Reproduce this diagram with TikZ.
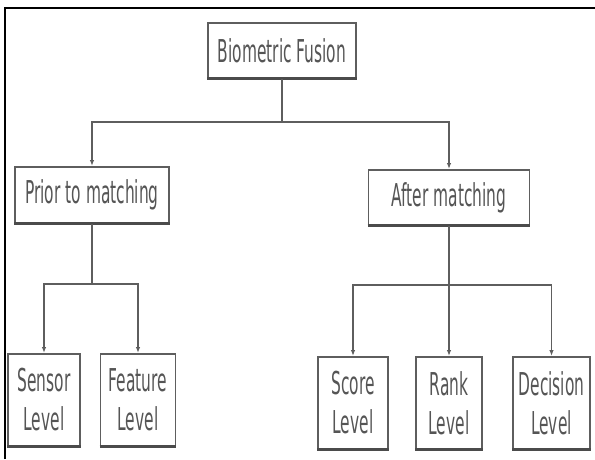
\documentclass[tikz,border=0pt]{standalone}
\usepackage{fontspec}
\usetikzlibrary{arrows.meta}
\newfontfamily\boxfont[FakeStretch=0.49]{DejaVu Sans}
\definecolor{boxgray}{HTML}{5E5E5E}
\definecolor{txtgray}{HTML}{555555}
\tikzset{
  box/.style={draw=boxgray, line width=1.9pt, fill=white, align=center,
    text=txtgray, inner sep=0pt,
    font=\boxfont\fontsize{31.5}{39}\selectfont},
  arr/.style={draw=boxgray, line width=1.5pt, -{Latex[length=6pt,width=4.5pt]}},
  bus/.style={draw=boxgray, line width=1.5pt},
  boxbase/.style={draw=boxgray!80!black, line width=3pt}
}
\begin{document}
\begin{tikzpicture}[x=1pt, y=-1pt]
    \useasboundingbox (0,0) rectangle (595,459);
    % Frame
    \draw[line width=2.5pt] (5,459) -- (5,8) -- (595,8);

    % Top node
    \node[box, minimum width=148, minimum height=55] (fusion) at (282,50.5) {Biometric Fusion};

    % Second level
    \node[box, minimum width=154, minimum height=56] (prior) at (92,195) {Prior to matching};
    \node[box, minimum width=161, minimum height=55] (after) at (449,197.5) {After matching};

    % Third level
    \node[box, minimum width=72, minimum height=92] (sensor) at (44,400) {Sensor\\Level};
    \node[box, minimum width=75, minimum height=92] (feature) at (138,400) {Feature\\Level};
    \node[box, minimum width=70, minimum height=92] (score) at (353,403) {Score\\Level};
    \node[box, minimum width=66, minimum height=92] (rank) at (449,403) {Rank\\Level};
    \node[box, minimum width=77, minimum height=92] (decision) at (551.5,403) {Decision\\Level};

    % Heavier bottom edges
    \foreach \N in {fusion,prior,after,sensor,feature,score,rank,decision} {
        \draw[boxbase] (\N.south west) -- (\N.south east);
    }

    % Bus points
    \coordinate (busA) at (282,122);
    \coordinate (busB) at (92,284);
    \coordinate (busC) at (449,285);

    % Connectors from the top
    \draw[bus] (fusion.south) -- (busA);
    \draw[arr] (busA) -| (prior.north);
    \draw[arr] (busA) -| (after.north);

    % Connectors before matching
    \draw[bus] (prior.south) -- (busB);
    \foreach \N in {sensor,feature} {
        \draw[arr] (busB) -| (\N.north);
    }

    % Connectors after matching
    \draw[bus] (after.south) -- (busC);
    \foreach \N in {score,rank,decision} {
        \draw[arr] (busC) -| (\N.north);
    }
\end{tikzpicture}
\end{document}
